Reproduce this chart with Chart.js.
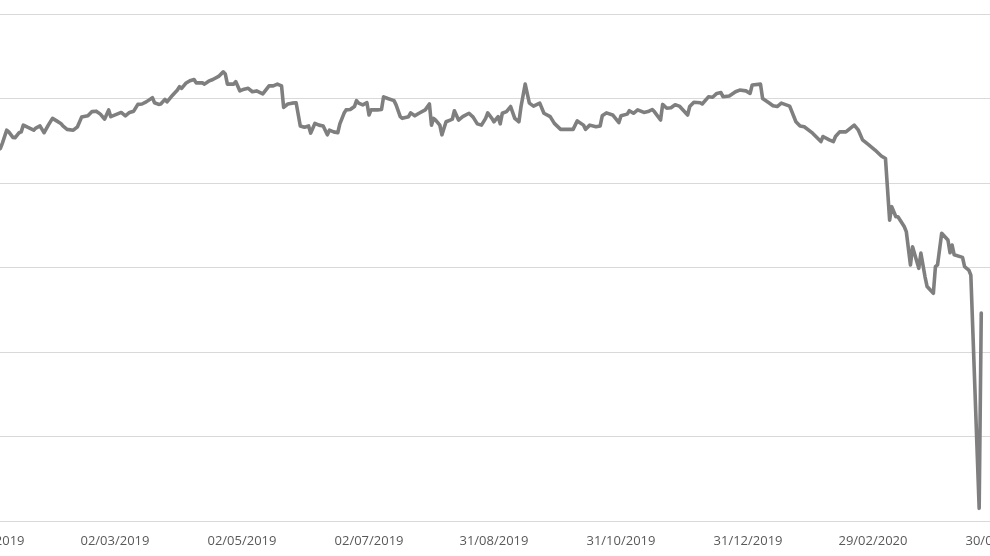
<!DOCTYPE html>
<html>
<head>
<meta charset="utf-8">
<script src="https://cdn.jsdelivr.net/npm/chart.js@4/dist/chart.umd.min.js"></script>
<style>
  html, body { margin: 0; padding: 0; background: #fff; }
  body { width: 990px; height: 556px; overflow: hidden; position: relative; }
  #wrap { position: absolute; left: -60px; top: 0; width: 1110px; height: 556px; }
</style>
</head>
<body>
<div id="wrap"><canvas id="chart" width="1110" height="556"></canvas></div>
<script>
// days since 01/01/2019 and the price
const dayOffsets = [
  1, 2, 5, 6, 8, 9, 11, 12, 14, 15, 16, 18, 21, 22, 24, 25, 26, 28, 30, 32,
  34, 35, 37, 40, 42, 44, 47, 49, 51, 53, 55, 57, 58, 61, 63, 65, 67, 69, 71, 73,
  75, 78, 79, 81, 82, 84, 85, 87, 90, 91, 92, 94, 96, 98, 99, 102, 103, 105, 107, 110,
  112, 113, 114, 117, 118, 120, 122, 124, 126, 128, 131, 134, 136, 138, 140, 141, 143, 145, 147, 149,
  151, 153, 154, 156, 158, 160, 162, 163, 165, 167, 168, 170, 171, 173, 175, 176, 177, 179, 181, 182,
  183, 186, 188, 189, 191, 194, 195, 197, 198, 201, 202, 204, 206, 209, 211, 212, 213, 214, 216, 217,
  219, 221, 222, 223, 225, 227, 230, 232, 234, 236, 238, 239, 241, 242, 244, 245, 246, 248, 250, 252,
  254, 255, 257, 259, 261, 264, 266, 269, 271, 274, 280, 282, 285, 286, 288, 291, 293, 294, 296, 299,
  302, 303, 306, 307, 309, 311, 314, 316, 318, 319, 322, 323, 325, 327, 329, 331, 335, 336, 338, 341,
  342, 345, 347, 349, 351, 352, 355, 358, 360, 363, 365, 366, 370, 371, 374, 376, 378, 380, 384, 387,
  389, 391, 395, 399, 400, 403, 405, 406, 408, 411, 415, 417, 419, 422, 425, 428, 430, 432, 433, 435,
  436, 439, 440, 442, 443, 446, 447, 449, 450, 453, 454, 455, 457, 460, 461, 462, 463, 467, 468, 470,
  471, 475, 476
];
const prices = [
  46.5, 47.1, 48.2, 49.5, 52.5, 52.1, 50.8, 50.7, 51.9, 52.1, 53.7, 53.2, 52.5, 53.0, 53.5, 52.7, 51.9, 53.7, 55.3, 54.7,
  54.1, 53.5, 52.7, 52.5, 53.3, 55.6, 55.9, 56.9, 57.0, 56.3, 55.1, 57.3, 55.7, 56.3, 56.7, 55.9, 56.7, 57.0, 58.6, 58.7,
  59.2, 60.2, 59.0, 58.6, 58.7, 59.8, 59.2, 60.4, 62.0, 62.8, 62.4, 63.6, 64.2, 64.5, 63.7, 63.7, 63.4, 64.1, 64.5, 65.3,
  66.3, 65.8, 63.4, 63.4, 64.0, 61.8, 62.2, 62.4, 61.6, 61.8, 61.1, 63.0, 63.0, 63.4, 63.0, 57.9, 58.7, 58.9, 59.0, 53.5,
  53.2, 53.5, 51.8, 54.1, 53.7, 53.5, 51.4, 52.5, 52.1, 51.9, 54.0, 56.5, 57.3, 57.4, 58.1, 59.5, 58.9, 58.5, 59.0, 56.1,
  57.3, 57.3, 57.4, 60.4, 60.0, 59.5, 58.5, 55.7, 55.3, 55.7, 56.6, 55.9, 56.5, 57.3, 58.7, 53.7, 55.3, 54.9, 53.7, 51.4,
  54.5, 54.9, 55.1, 57.1, 54.9, 55.7, 56.5, 55.6, 54.0, 53.7, 55.3, 56.6, 55.3, 54.5, 55.7, 54.0, 56.5, 56.9, 58.1, 55.3,
  54.5, 58.1, 63.4, 58.9, 58.2, 58.9, 56.5, 55.7, 54.1, 52.7, 52.7, 54.7, 53.7, 52.7, 53.7, 53.3, 53.5, 55.9, 56.6, 56.1,
  54.3, 55.9, 56.3, 57.1, 56.5, 57.3, 56.7, 56.9, 57.4, 56.9, 54.9, 58.6, 57.7, 57.8, 58.5, 58.2, 56.1, 58.1, 59.1, 59.0,
  58.7, 60.4, 60.3, 61.2, 61.4, 60.4, 60.6, 61.6, 62.0, 61.8, 61.2, 63.2, 63.4, 60.0, 59.0, 58.3, 58.1, 58.9, 58.2, 54.5,
  53.5, 53.3, 51.8, 49.8, 51.0, 50.2, 49.8, 51.0, 52.1, 52.1, 53.7, 52.5, 50.2, 49.0, 47.8, 46.4, 45.8, 31.2, 34.4, 32.0,
  32.0, 29.7, 28.5, 20.6, 24.9, 19.8, 23.4, 17.8, 15.5, 13.9, 20.2, 20.6, 28.1, 26.5, 23.5, 25.3, 23.0, 22.4, 20.2, 19.4,
  18.2, -37.0, 9.2
];

const tickLabels = ['01/01/2019', '02/03/2019', '02/05/2019', '02/07/2019', '31/08/2019',
  '31/10/2019', '31/12/2019', '29/02/2020', '30/04/2020'];
const yMin = -40;
const yMax = 80;
const yStep = 20;

// dd/mm/yyyy -> days since 01/01/2019
function toDay(label) {
    const [d, m, y] = label.split('/').map(Number);
    return Math.round((Date.UTC(y, m - 1, d) - Date.UTC(2019, 0, 1)) / 86400000);
}
const tickDays = tickLabels.map(toDay);
const points = dayOffsets.map((d, i) => ({ x: d, y: prices[i] }));

new Chart(document.getElementById('chart'), {
    type: 'line',
    data: {
        datasets: [{
            data: points,
            borderColor: '#7f7f7f',
            borderWidth: 3.6,
            pointRadius: 0,
            tension: 0,
            borderJoinStyle: 'round',
            borderCapStyle: 'round',
            fill: false
        }]
    },
    options: {
        responsive: false,
        devicePixelRatio: 1,
        animation: false,
        layout: { padding: { left: 50, right: 50, top: 14, bottom: 0 } },
        plugins: { legend: { display: false }, tooltip: { enabled: false } },
        scales: {
            x: {
                type: 'linear',
                min: tickDays[0],
                max: tickDays[tickDays.length - 1],
                afterBuildTicks: (scale) => {
                    scale.ticks = tickDays.map(v => ({ value: v }));
                },
                afterFit: (scale) => { scale.height = 35; },
                grid: { display: false, drawTicks: false },
                border: { display: true, color: '#d9d9d9', width: 1 },
                ticks: {
                    autoSkip: false,
                    maxRotation: 0,
                    padding: 12,
                    color: '#595959',
                    font: { family: '"Open Sans", sans-serif', size: 13 },
                    callback: (value, index) => tickLabels[index]
                }
            },
            y: {
                min: yMin,
                max: yMax,
                afterFit: (scale) => { scale.width = 0; },
                grid: { color: '#d9d9d9', lineWidth: 1, drawTicks: false },
                border: { display: false },
                ticks: { display: false, stepSize: yStep }
            }
        }
    }
});
</script>
</body>
</html>
